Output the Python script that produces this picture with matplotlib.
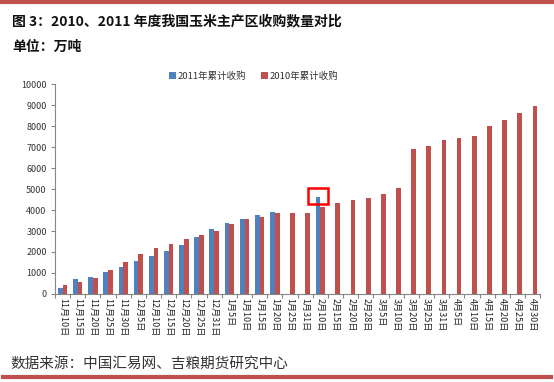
import matplotlib
matplotlib.use("Agg")
import matplotlib.pyplot as plt
from matplotlib.patches import Rectangle
import numpy as np

plt.rcParams['font.family'] = ['Noto Sans CJK SC', 'DejaVu Sans']

# ── data ──
dates = ["11月10日", "11月15日", "11月20日", "11月25日", "11月30日",
         "12月5日", "12月10日", "12月15日", "12月20日", "12月25日", "12月31日",
         "1月5日", "1月10日", "1月15日", "1月20日", "1月25日", "1月31日",
         "2月10日", "2月15日", "2月20日", "2月28日",
         "3月5日", "3月10日", "3月20日", "3月25日", "3月31日",
         "4月5日", "4月10日", "4月15日", "4月20日", "4月25日", "4月30日"]
buy_2011 = [290, 730, 820, 1050, 1300, 1590, 1810, 2060, 2350, 2710, 3080,
            3360, 3590, 3760, 3900, np.nan, np.nan, 4640] + [np.nan] * 14
buy_2010 = [430, 570, 760, 1160, 1510, 1900, 2170, 2380, 2600, 2820, 3000,
            3330, 3590, 3660, 3880, 3870, 3870, 4160, 4320, 4460, 4570,
            4750, 5050, 6890, 7060, 7330, 7430, 7510, 8020, 8270, 8640, 8950]
highlight_idx = 17

BLUE = "#4f81bd"
RED = "#c0504d"
AXIS = "#868686"

fig = plt.figure(figsize=(5.54, 3.82), dpi=100)
ax = fig.add_axes([0.0993, 0.2304, 0.8757, 0.5496])

x = np.arange(len(dates))
w = 0.31
ax.bar(x - w / 2, buy_2011, w, color=BLUE, label="2011年累计收购")
ax.bar(x + w / 2, buy_2010, w, color=RED, label="2010年累计收购")

# red box around the latest 2011 value
ax.add_patch(Rectangle((highlight_idx - w / 2 - 0.66, buy_2011[highlight_idx] - 350),
                       1.32, 745, fill=False, edgecolor="#ff0000", linewidth=1.8,
                       zorder=5))

ax.set_xlim(-0.5, len(dates) - 0.5)
ax.set_ylim(0, 10000)
ax.set_yticks(range(0, 10001, 1000))
ax.tick_params(axis="y", labelsize=6.5, colors=AXIS, labelcolor="#333333",
               length=3, width=0.8, pad=3)
ax.set_xticks(x)
ax.set_xticklabels(dates, rotation=-90, fontsize=6.5, color="#222222")
ax.tick_params(axis="x", which="major", length=0, pad=3)
ax.set_xticks(np.arange(-0.5, len(dates)), minor=True)
ax.tick_params(axis="x", which="minor", length=3, width=0.8, colors=AXIS)
for side in ("top", "right"):
    ax.spines[side].set_visible(False)
for side in ("left", "bottom"):
    ax.spines[side].set_color(AXIS)
    ax.spines[side].set_linewidth(0.8)

ax.legend(loc="upper center", bbox_to_anchor=(0.41, 1.10), ncol=2, frameon=False,
          fontsize=6.8, handlelength=0.7, handleheight=0.7, handletextpad=0.2,
          columnspacing=1.6, labelcolor="#333333")

# header / footer
fig.text(0.022, 0.945, "图 3：2010、2011 年度我国玉米主产区收购数量对比",
         fontsize=10, fontweight="bold", va="center", color="#111111")
fig.text(0.022, 0.877, "单位：万吨", fontsize=10, fontweight="bold",
         va="center", color="#111111")
fig.text(0.018, 0.048, "数据来源：中国汇易网、吉粮期货研究中心", fontsize=10.5,
         style="italic", va="center", color="#333333")

fig.add_artist(plt.Line2D([0, 1], [0.995, 0.995], color=RED, linewidth=3))
fig.add_artist(plt.Line2D([0.005, 0.995], [0.012, 0.012], color=RED, linewidth=3))

fig.savefig("out.png", dpi=100)
